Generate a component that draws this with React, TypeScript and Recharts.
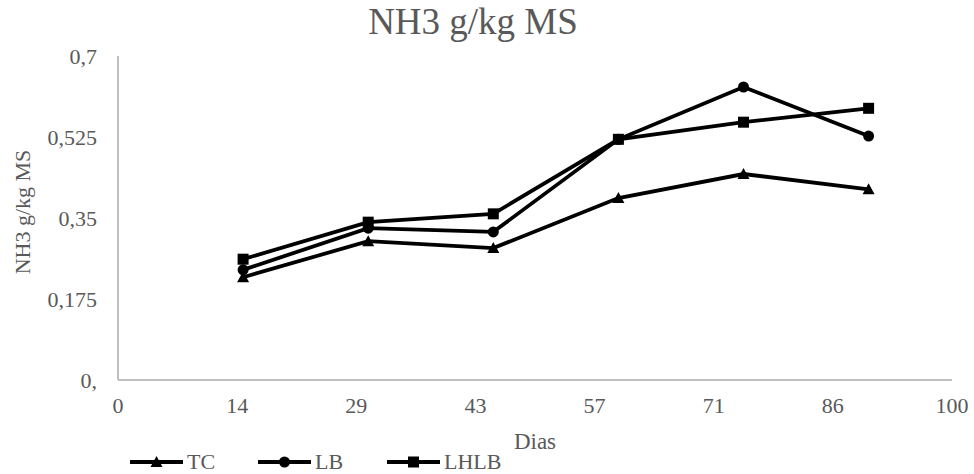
import React from 'react';
import { LineChart, Line, XAxis, YAxis } from 'recharts';

const days = [15, 30, 45, 60, 75, 90];
const tcValues = [0.222, 0.3, 0.285, 0.393, 0.445, 0.412];
const lbValues = [0.238, 0.328, 0.32, 0.52, 0.633, 0.527];
const lhlbValues = [0.261, 0.341, 0.359, 0.52, 0.557, 0.587];

const seriesNames = ['TC', 'LB', 'LHLB'];
const seriesShapes = ['triangle', 'circle', 'square'];

const xTickValues = [0, 14.2857, 28.5714, 42.8571, 57.1429, 71.4286, 85.7143, 100];
const xTickLabels = ['0', '14', '29', '43', '57', '71', '86', '100'];
const yTickValues = [0, 0.175, 0.35, 0.525, 0.7];
const yTickLabels = ['0,', '0,175', '0,35', '0,525', '0,7'];

const title = 'NH3 g/kg MS';
const xTitle = 'Dias';
const yTitle = 'NH3 g/kg MS';

const rows = days.map((d, i) => ({
  day: d,
  TC: tcValues[i],
  LB: lbValues[i],
  LHLB: lhlbValues[i],
}));

const FONT = "'Liberation Serif', 'Times New Roman', serif";
const GREY = '#595959';
const AXIS = '#bfbfbf';

function Marker({ shape, cx, cy }: { shape: string; cx: number; cy: number }) {
  if (shape === 'triangle') {
    return <path d={`M${cx},${cy - 6} L${cx + 6},${cy + 5} L${cx - 6},${cy + 5} Z`} fill="#000" />;
  }
  if (shape === 'circle') {
    return <circle cx={cx} cy={cy} r={5.5} fill="#000" />;
  }
  return <rect x={cx - 5.5} y={cy - 5.5} width={11} height={11} fill="#000" />;
}

const makeDot = (shape: string) => (props: any) => {
  const { cx, cy, index } = props;
  if (cx == null || cy == null) return <g key={`d-${shape}-${index}`} />;
  return (
    <g key={`d-${shape}-${index}`}>
      <Marker shape={shape} cx={cx} cy={cy} />
    </g>
  );
};

const XTick = (props: any) => {
  const { x, y, payload, index } = props;
  const idx = xTickValues.findIndex((v) => Math.abs(v - payload.value) < 1e-3);
  return (
    <text x={x} y={y + 25} textAnchor="middle" fill={GREY} fontSize={22} fontFamily={FONT}>
      {xTickLabels[idx >= 0 ? idx : index]}
    </text>
  );
};

const YTick = (props: any) => {
  const { x, y, payload, index } = props;
  const idx = yTickValues.findIndex((v) => Math.abs(v - payload.value) < 1e-6);
  return (
    <text x={x - 13} y={y} dy="0.35em" textAnchor="end" fill={GREY} fontSize={22} fontFamily={FONT}>
      {yTickLabels[idx >= 0 ? idx : index]}
    </text>
  );
};

export default function App() {
  return (
    <div style={{ position: 'absolute', left: 0, top: 0, width: 974, height: 474, background: '#fff', fontFamily: FONT }}>
      <LineChart
        width={974}
        height={474}
        data={rows}
        margin={{ top: 56, right: 22, left: 0, bottom: 0 }}
      >
        <XAxis
          dataKey="day"
          type="number"
          domain={[0, 100]}
          ticks={xTickValues}
          interval={0}
          height={94}
          tickLine={false}
          axisLine={{ stroke: AXIS, strokeWidth: 2 }}
          tick={<XTick />}
          label={({ viewBox }: any) => (
            <text
              x={viewBox.x + viewBox.width / 2}
              y={viewBox.y + 69}
              textAnchor="middle"
              fill={GREY}
              fontSize={23}
              fontFamily={FONT}
            >
              {xTitle}
            </text>
          )}
        />
        <YAxis
          type="number"
          domain={[0, 0.7]}
          ticks={yTickValues}
          interval={0}
          width={118}
          tickLine={false}
          axisLine={{ stroke: AXIS, strokeWidth: 2 }}
          tick={<YTick />}
          label={({ viewBox }: any) => {
            const cx = 22;
            const cy = viewBox.y + viewBox.height / 2 - 6;
            return (
              <text
                x={cx}
                y={cy}
                transform={`rotate(-90 ${cx} ${cy})`}
                textAnchor="middle"
                dominantBaseline="central"
                fill={GREY}
                fontSize={22}
                fontFamily={FONT}
              >
                {yTitle}
              </text>
            );
          }}
        />
        {seriesNames.map((name, i) => (
          <Line
            key={name}
            dataKey={name}
            stroke="#000"
            strokeWidth={3.8}
            dot={makeDot(seriesShapes[i])}
            activeDot={false}
            isAnimationActive={false}
          />
        ))}
      </LineChart>
      <div
        style={{
          position: 'absolute',
          left: 0,
          width: 946,
          top: 1,
          textAlign: 'center',
          fontSize: 37,
          color: GREY,
          fontFamily: FONT,
          lineHeight: '42px',
        }}
      >
        {title}
      </div>
      <svg style={{ position: 'absolute', left: 0, top: 440 }} width={600} height={34}>
        {seriesNames.map((name, i) => {
          const starts = [130, 258, 387];
          const x0 = starts[i];
          return (
            <g key={name}>
              <line x1={x0} x2={x0 + 53} y1={22} y2={22} stroke="#000" strokeWidth={3.8} />
              <Marker shape={seriesShapes[i]} cx={x0 + 26.5} cy={22} />
              <text x={x0 + 57} y={29} fill={GREY} fontSize={22} fontFamily={FONT}>
                {name}
              </text>
            </g>
          );
        })}
      </svg>
    </div>
  );
}
